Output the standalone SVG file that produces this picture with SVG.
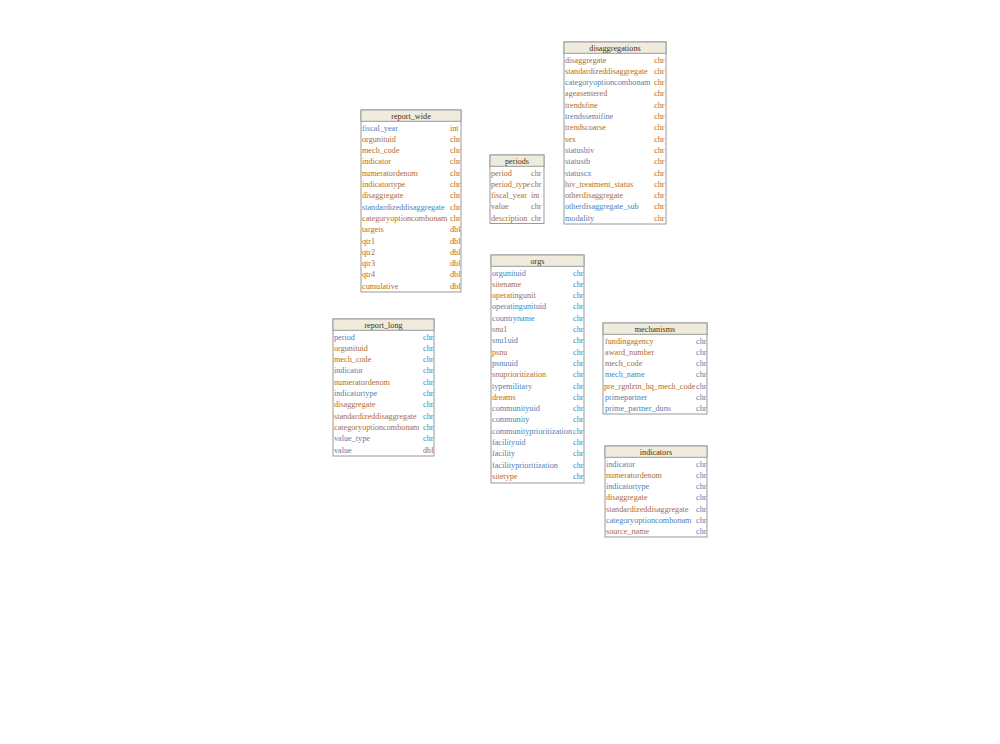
<svg xmlns="http://www.w3.org/2000/svg" width="1000" height="744" viewBox="0 0 1000 744">
<style>
text{font-family:"Liberation Serif","Times New Roman",serif;font-size:8.2px}
.box{fill:#fff;stroke:#999;stroke-width:1}
.hd{fill:#efebdd;stroke:#999;stroke-width:1}
.ht{fill:#4a3010;text-anchor:middle}
.o{fill:#ad6d30}
.b{fill:#4f7fb5}
</style>
<rect width="1000" height="744" fill="#fff"/>
<g id="connectors"></g>

<g id="report_wide" transform="translate(361,110)">
<rect class="box" x="0" y="0" width="100" height="182"/>
<rect class="hd" x="0" y="0" width="100" height="11.3"/>
<text class="ht" x="50" y="8.8">report_wide</text>
<text class="b" x="1" y="20.5">fiscal_year</text><text class="o" x="89" y="20.5">int</text>
<text class="o" x="1" y="31.8">orgunituid</text><text class="o" x="89" y="31.8">chr</text>
<text class="o" x="1" y="43.1">mech_code</text><text class="o" x="89" y="43.1">chr</text>
<text class="o" x="1" y="54.4">indicator</text><text class="o" x="89" y="54.4">chr</text>
<text class="o" x="1" y="65.7">numeratordenom</text><text class="o" x="89" y="65.7">chr</text>
<text class="o" x="1" y="77">indicatortype</text><text class="o" x="89" y="77">chr</text>
<text class="o" x="1" y="88.3">disaggregate</text><text class="o" x="89" y="88.3">chr</text>
<text class="b" x="1" y="99.6">standardizeddisaggregate</text><text class="o" x="89" y="99.6">chr</text>
<text class="o" x="1" y="110.9">categoryoptioncombonam</text><text class="o" x="89" y="110.9">chr</text>
<text class="o" x="1" y="122.2">targets</text><text class="o" x="89" y="122.2">dbl</text>
<text class="o" x="1" y="133.5">qtr1</text><text class="o" x="89" y="133.5">dbl</text>
<text class="o" x="1" y="144.8">qtr2</text><text class="o" x="89" y="144.8">dbl</text>
<text class="o" x="1" y="156.1">qtr3</text><text class="o" x="89" y="156.1">dbl</text>
<text class="o" x="1" y="167.4">qtr4</text><text class="o" x="89" y="167.4">dbl</text>
<text class="o" x="1" y="178.7">cumulative</text><text class="o" x="89" y="178.7">dbl</text>
</g>

<g id="periods" transform="translate(490,155)">
<rect class="box" x="0" y="0" width="54" height="68.5"/>
<rect class="hd" x="0" y="0" width="54" height="11.3"/>
<text class="ht" x="27" y="8.8">periods</text>
<text class="o" x="1" y="20.5">period</text><text class="o" x="41" y="20.5">chr</text>
<text class="o" x="1" y="31.8">period_type</text><text class="o" x="41" y="31.8">chr</text>
<text class="o" x="1" y="43.1">fiscal_year</text><text class="o" x="41" y="43.1">int</text>
<text class="o" x="1" y="54.4">value</text><text class="o" x="41" y="54.4">chr</text>
<text class="o" x="1" y="65.7">description</text><text class="o" x="41" y="65.7">chr</text>
</g>

<g id="disaggregations" transform="translate(564,42)">
<rect class="box" x="0" y="0" width="102" height="182"/>
<rect class="hd" x="0" y="0" width="102" height="11.3"/>
<text class="ht" x="51" y="8.8">disaggregations</text>
<text class="o" x="1" y="20.5">disaggregate</text><text class="o" x="90" y="20.5">chr</text>
<text class="o" x="1" y="31.8">standardizeddisaggregate</text><text class="o" x="90" y="31.8">chr</text>
<text class="b" x="1" y="43.1">categoryoptioncombonam</text><text class="o" x="90" y="43.1">chr</text>
<text class="o" x="1" y="54.4">ageasentered</text><text class="o" x="90" y="54.4">chr</text>
<text class="o" x="1" y="65.7">trendsfine</text><text class="o" x="90" y="65.7">chr</text>
<text class="b" x="1" y="77">trendssemifine</text><text class="o" x="90" y="77">chr</text>
<text class="o" x="1" y="88.3">trendscoarse</text><text class="o" x="90" y="88.3">chr</text>
<text class="o" x="1" y="99.6">sex</text><text class="o" x="90" y="99.6">chr</text>
<text class="b" x="1" y="110.9">statushiv</text><text class="o" x="90" y="110.9">chr</text>
<text class="b" x="1" y="122.2">statustb</text><text class="o" x="90" y="122.2">chr</text>
<text class="b" x="1" y="133.5">statuscx</text><text class="o" x="90" y="133.5">chr</text>
<text class="o" x="1" y="144.8">hiv_treatment_status</text><text class="o" x="90" y="144.8">chr</text>
<text class="o" x="1" y="156.1">otherdisaggregate</text><text class="o" x="90" y="156.1">chr</text>
<text class="b" x="1" y="167.4">otherdisaggregate_sub</text><text class="o" x="90" y="167.4">chr</text>
<text class="b" x="1" y="178.7">modality</text><text class="o" x="90" y="178.7">chr</text>
</g>

<g id="orgs" transform="translate(491,255)">
<rect class="box" x="0" y="0" width="93" height="228"/>
<rect class="hd" x="0" y="0" width="93" height="11.3"/>
<text class="ht" x="46.5" y="8.8">orgs</text>
<text class="b" x="1" y="20.5">orgunituid</text><text class="b" x="82" y="20.5">chr</text>
<text class="o" x="1" y="31.8">sitename</text><text class="b" x="82" y="31.8">chr</text>
<text class="o" x="1" y="43.1">operatingunit</text><text class="b" x="82" y="43.1">chr</text>
<text class="b" x="1" y="54.4">operatingunituid</text><text class="b" x="82" y="54.4">chr</text>
<text class="b" x="1" y="65.7">countryname</text><text class="b" x="82" y="65.7">chr</text>
<text class="o" x="1" y="77">snu1</text><text class="b" x="82" y="77">chr</text>
<text class="b" x="1" y="88.3">snu1uid</text><text class="b" x="82" y="88.3">chr</text>
<text class="o" x="1" y="99.6">psnu</text><text class="b" x="82" y="99.6">chr</text>
<text class="b" x="1" y="110.9">psnuuid</text><text class="b" x="82" y="110.9">chr</text>
<text class="o" x="1" y="122.2">snuprioritization</text><text class="b" x="82" y="122.2">chr</text>
<text class="b" x="1" y="133.5">typemilitary</text><text class="b" x="82" y="133.5">chr</text>
<text class="o" x="1" y="144.8">dreams</text><text class="b" x="82" y="144.8">chr</text>
<text class="b" x="1" y="156.1">communityuid</text><text class="b" x="82" y="156.1">chr</text>
<text class="b" x="1" y="167.4">community</text><text class="b" x="82" y="167.4">chr</text>
<text class="b" x="1" y="178.7">communityprioritization</text><text class="b" x="82" y="178.7">chr</text>
<text class="b" x="1" y="190">facilityuid</text><text class="b" x="82" y="190">chr</text>
<text class="b" x="1" y="201.3">facility</text><text class="b" x="82" y="201.3">chr</text>
<text class="b" x="1" y="212.6">facilityprioritization</text><text class="b" x="82" y="212.6">chr</text>
<text class="o" x="1" y="223.9">sitetype</text><text class="b" x="82" y="223.9">chr</text>
</g>

<g id="report_long" transform="translate(333,319)">
<rect class="box" x="0" y="0" width="101" height="137"/>
<rect class="hd" x="0" y="0" width="101" height="11.3"/>
<text class="ht" x="50.5" y="8.8">report_long</text>
<text class="b" x="1" y="20.5">period</text><text class="b" x="90" y="20.5">chr</text>
<text class="o" x="1" y="31.8">orgunituid</text><text class="b" x="90" y="31.8">chr</text>
<text class="o" x="1" y="43.1">mech_code</text><text class="b" x="90" y="43.1">chr</text>
<text class="b" x="1" y="54.4">indicator</text><text class="b" x="90" y="54.4">chr</text>
<text class="o" x="1" y="65.7">numeratordenom</text><text class="b" x="90" y="65.7">chr</text>
<text class="b" x="1" y="77">indicatortype</text><text class="b" x="90" y="77">chr</text>
<text class="o" x="1" y="88.3">disaggregate</text><text class="b" x="90" y="88.3">chr</text>
<text class="o" x="1" y="99.6">standardizeddisaggregate</text><text class="b" x="90" y="99.6">chr</text>
<text class="o" x="1" y="110.9">categoryoptioncombonam</text><text class="b" x="90" y="110.9">chr</text>
<text class="b" x="1" y="122.2">value_type</text><text class="b" x="90" y="122.2">chr</text>
<text class="b" x="1" y="133.5">value</text><text class="o" x="90" y="133.5">dbl</text>
</g>

<g id="mechanisms" transform="translate(603,323)">
<rect class="box" x="0" y="0" width="104" height="91"/>
<rect class="hd" x="0" y="0" width="104" height="11.3"/>
<text class="ht" x="52" y="8.8">mechanisms</text>
<text class="o" x="2" y="20.5">fundingagency</text><text class="b" x="93" y="20.5">chr</text>
<text class="o" x="2" y="31.8">award_number</text><text class="b" x="93" y="31.8">chr</text>
<text class="o" x="2" y="43.1">mech_code</text><text class="b" x="93" y="43.1">chr</text>
<text class="b" x="2" y="54.4">mech_name</text><text class="b" x="93" y="54.4">chr</text>
<text class="o" x="1" y="65.7">pre_rgnlztn_hq_mech_code</text><text class="b" x="93" y="65.7">chr</text>
<text class="b" x="2" y="77">primepartner</text><text class="b" x="93" y="77">chr</text>
<text class="b" x="2" y="88.3">prime_partner_duns</text><text class="b" x="93" y="88.3">chr</text>
</g>

<g id="indicators" transform="translate(605,446)">
<rect class="box" x="0" y="0" width="102" height="91"/>
<rect class="hd" x="0" y="0" width="102" height="11.3"/>
<text class="ht" x="51" y="8.8">indicators</text>
<text class="b" x="1" y="20.5">indicator</text><text class="b" x="91" y="20.5">chr</text>
<text class="o" x="1" y="31.8">numeratordenom</text><text class="b" x="91" y="31.8">chr</text>
<text class="b" x="1" y="43.1">indicatortype</text><text class="b" x="91" y="43.1">chr</text>
<text class="o" x="1" y="54.4">disaggregate</text><text class="b" x="91" y="54.4">chr</text>
<text class="o" x="1" y="65.7">standardizeddisaggregate</text><text class="b" x="91" y="65.7">chr</text>
<text class="b" x="1" y="77">categoryoptioncombonam</text><text class="b" x="91" y="77">chr</text>
<text class="o" x="1" y="88.3">source_name</text><text class="b" x="91" y="88.3">chr</text>
</g>
</svg>
